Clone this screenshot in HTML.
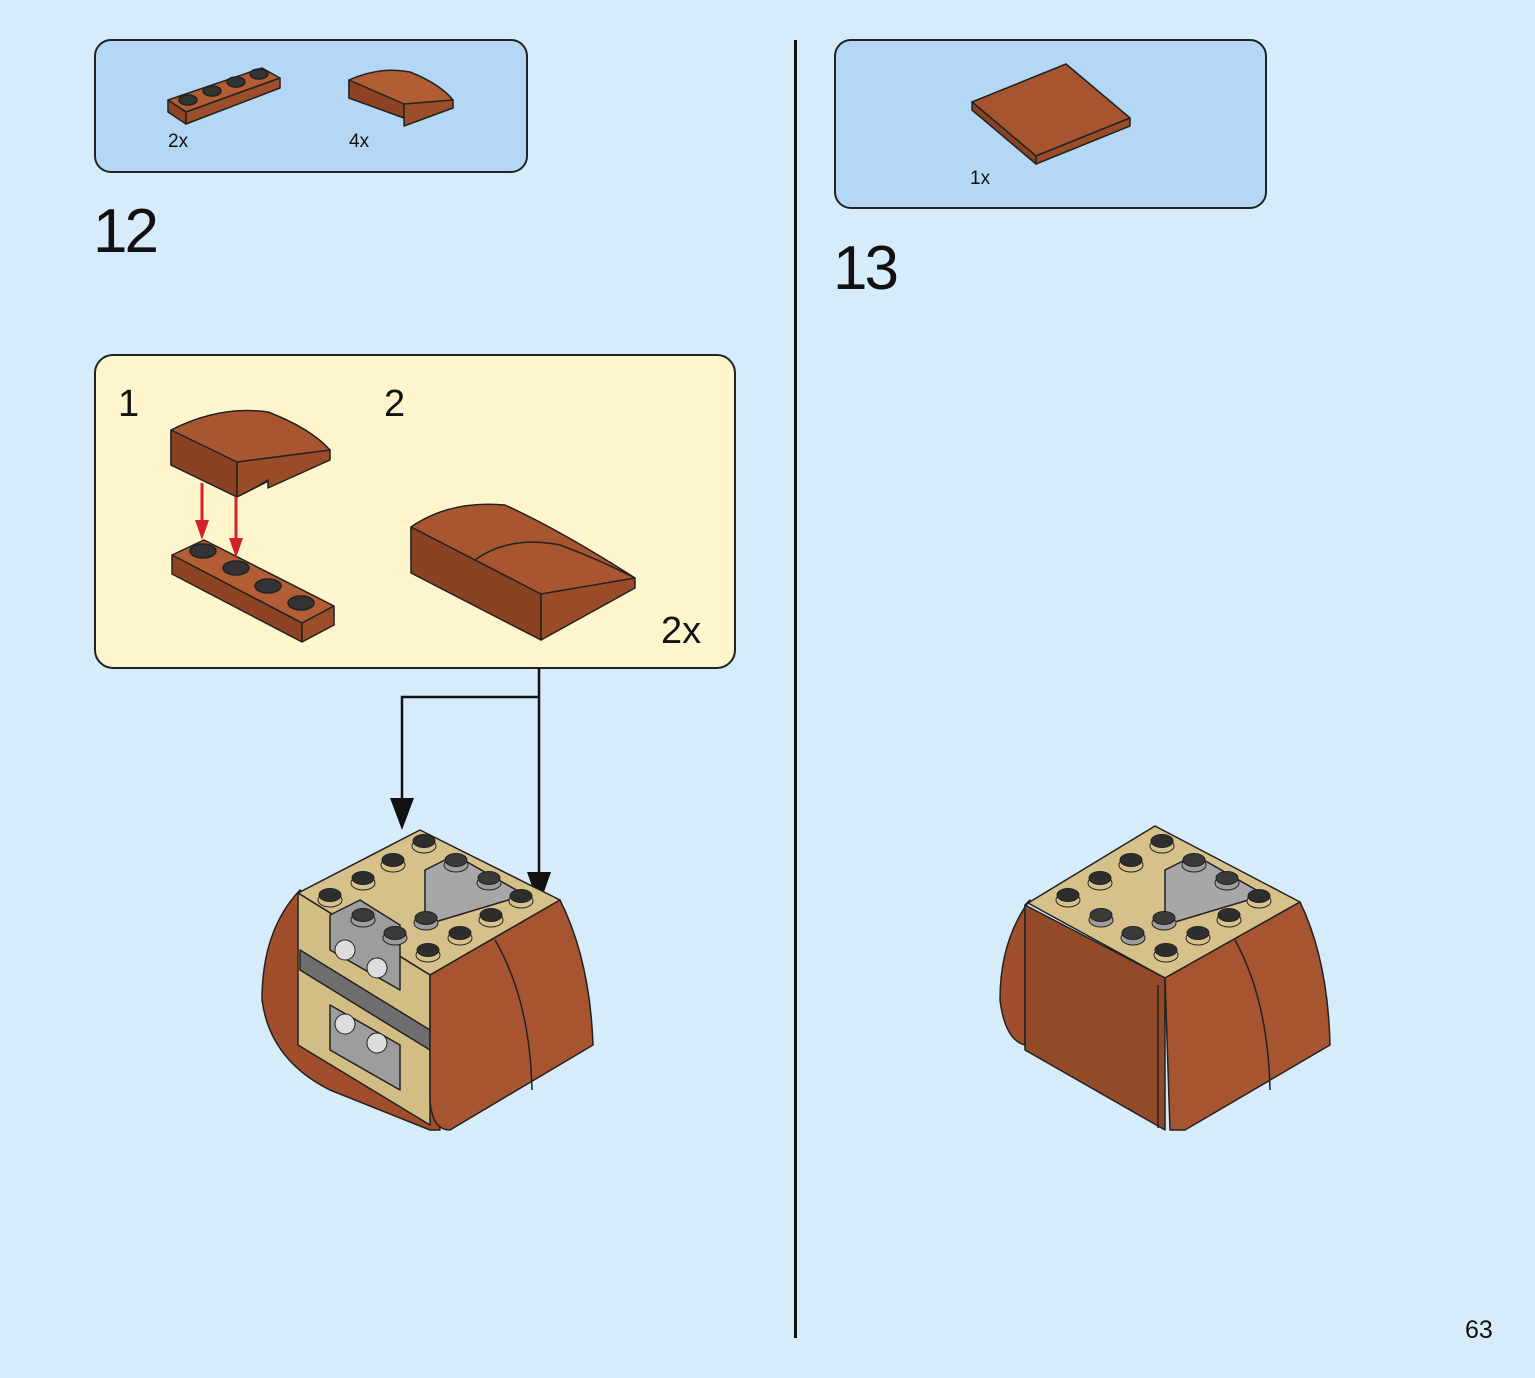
<!DOCTYPE html>
<html><head><meta charset="utf-8"><style>
html,body{margin:0;padding:0;background:#d7ecfb;}
body{width:1535px;height:1378px;position:relative;overflow:hidden;font-family:"Liberation Sans",sans-serif;}
svg{position:absolute;left:0;top:0;}
</style></head><body>
<svg width="1535" height="1378" viewBox="0 0 1535 1378" xmlns="http://www.w3.org/2000/svg" font-family="Liberation Sans, sans-serif">
<defs>
<g id="st"><ellipse cx="0" cy="3" rx="12" ry="7" fill="#d6c18a"/><ellipse cx="0" cy="-2" rx="11" ry="6.5" fill="#2e2e2e"/></g>
<g id="sg"><ellipse cx="0" cy="3" rx="12" ry="7" fill="#9d9d9d"/><ellipse cx="0" cy="-2" rx="11" ry="6.5" fill="#3a3a3a"/></g>
</defs>
<rect width="1535" height="1378" fill="#d7ecfb"/>
<rect x="95" y="40" width="432" height="132" rx="16" fill="#b3d7f4" stroke="#222" stroke-width="2"/>
<rect x="835" y="40" width="431" height="168" rx="16" fill="#b3d7f4" stroke="#222" stroke-width="2"/>
<rect x="95" y="355" width="640" height="313" rx="18" fill="#fff5cd" stroke="#222" stroke-width="2"/>
<line x1="795.5" y1="40" x2="795.5" y2="1338" stroke="#111" stroke-width="3"/>
<text x="93" y="252" font-size="62" letter-spacing="-3" fill="#111">12</text>
<text x="833" y="289" font-size="62" letter-spacing="-3" fill="#111">13</text>
<text x="1465" y="1338" font-size="25" fill="#111">63</text>
<text x="168" y="147" font-size="19" fill="#111">2x</text>
<text x="349" y="147" font-size="19" fill="#111">4x</text>
<text x="970" y="184" font-size="19" fill="#111">1x</text>
<text x="118" y="416" font-size="38" fill="#111">1</text>
<text x="384" y="416" font-size="38" fill="#111">2</text>
<text x="661" y="643" font-size="38" fill="#111">2x</text>

<g stroke="#222" stroke-width="1.5" stroke-linejoin="round">
<polygon points="168,100 262,68 280,78 186,112" fill="#b25d33"/>
<polygon points="168,100 186,112 186,124 168,112" fill="#8e4424"/>
<polygon points="186,112 280,78 280,88 186,124" fill="#9c4e2a"/>
<ellipse cx="188" cy="100" rx="9" ry="5" fill="#333"/><ellipse cx="212" cy="91" rx="9" ry="5" fill="#333"/><ellipse cx="236" cy="82" rx="9" ry="5" fill="#333"/><ellipse cx="259" cy="74" rx="9" ry="5" fill="#333"/>
<path d="M349,80 Q380,66 410,72 Q440,84 453,100 L404,118 L349,98 Z" fill="#b25d33"/>
<polygon points="349,80 349,98 404,118 404,104" fill="#8e4424"/>
<polygon points="404,104 453,100 453,108 404,126" fill="#9c4e2a"/>
<polygon points="972,102 1066,64 1130,118 1036,156" fill="#a65530"/>
<polygon points="972,102 1036,156 1036,164 972,110" fill="#8a4222"/>
<polygon points="1036,156 1130,118 1130,126 1036,164" fill="#9a4c29"/>

<path d="M171,430 Q220,405 268,412 Q310,428 330,450 L237,497 L171,465 Z" fill="#a85630"/>
<polygon points="171,430 237,462 237,497 171,465" fill="#8a4222"/>
<path d="M237,462 L330,450 L330,460 L268,488 L268,480 L258,486 L237,497 Z" fill="#9a4c29"/>
<polygon points="172,555 204,540 334,606 302,623" fill="#b25d33"/>
<polygon points="172,555 302,623 302,642 172,574" fill="#8e4424"/>
<polygon points="302,623 334,606 334,625 302,642" fill="#9c4e2a"/>
<ellipse cx="203" cy="551" rx="13" ry="7" fill="#333"/><ellipse cx="236" cy="568" rx="13" ry="7" fill="#333"/><ellipse cx="268" cy="586" rx="13" ry="7" fill="#333"/><ellipse cx="301" cy="603" rx="13" ry="7" fill="#333"/>
<path d="M411,527 Q450,500 505,505 Q560,530 635,578 L541,625 L411,560 Z" fill="#a85630"/>
<path d="M475,560 Q510,535 560,545 Q600,560 635,578" fill="none"/>
<polygon points="411,527 541,594 541,640 411,573" fill="#8a4222"/>
<polygon points="541,594 635,578 635,588 541,640" fill="#9a4c29"/>
</g>
<g stroke="#d2232a" stroke-width="3" fill="#d2232a">
<line x1="202" y1="483" x2="202" y2="528"/><polygon points="195,520 209,520 202,540" stroke="none"/>
<line x1="236" y1="497" x2="236" y2="546"/><polygon points="229,538 243,538 236,558" stroke="none"/>
</g>
<g stroke="#111" stroke-width="2.5" fill="none">
<polyline points="539,668 539,880"/>
<polyline points="539,697 402,697 402,804"/>
</g>
<polygon points="390,798 414,798 402,830" fill="#111"/>
<polygon points="527,872 551,872 539,906" fill="#111"/>

<g stroke="#222" stroke-width="1.5" stroke-linejoin="round">
<path d="M300,890 Q262,930 262,1000 Q270,1060 330,1090 L430,1130 L440,1130 L430,1000 Z" fill="#a04e2b"/>
<polygon points="298,893 420,830 560,900 430,975" fill="#d6c18a"/>
<polygon points="298,893 430,975 430,1125 298,1045" fill="#d2bd85"/>
<polygon points="300,950 430,1030 430,1050 300,970" fill="#6e6e6e"/>
<polygon points="330,915 360,900 400,925 400,990 330,950" fill="#9d9d9d"/>
<polygon points="330,1005 400,1045 400,1090 330,1050" fill="#9d9d9d"/>
<polygon points="425,870 455,855 525,895 425,925" fill="#a7a7a7"/>
<path d="M430,975 L560,900 Q590,960 593,1045 L450,1130 Q432,1130 430,1100 Z" fill="#a65530"/>
<path d="M495,940 Q530,1000 532,1090" fill="none"/>
</g>
<g stroke="#222">
<use href="#st" x="330" y="897"/><use href="#st" x="363" y="880"/><use href="#st" x="393" y="862"/><use href="#st" x="424" y="843"/>
<use href="#sg" x="456" y="862"/><use href="#sg" x="489" y="880"/><use href="#st" x="521" y="898"/>
<use href="#sg" x="363" y="917"/><use href="#sg" x="395" y="935"/><use href="#sg" x="426" y="920"/>
<use href="#st" x="491" y="917"/><use href="#st" x="460" y="935"/><use href="#st" x="428" y="952"/>
<circle cx="345" cy="950" r="10" fill="#ddd"/><circle cx="377" cy="968" r="10" fill="#ddd"/><circle cx="345" cy="1024" r="10" fill="#ddd"/><circle cx="377" cy="1043" r="10" fill="#ddd"/>
</g>

<g stroke="#222" stroke-width="1.5" stroke-linejoin="round">
<path d="M1030,900 Q1000,940 1000,1000 Q1005,1040 1025,1045 L1025,905 Z" fill="#a04e2b"/>
<polygon points="1028,903 1155,826 1300,902 1165,978" fill="#d6c18a"/>
<polygon points="1165,870 1195,855 1265,895 1165,925" fill="#a7a7a7"/>
<polygon points="1025,905 1165,978 1165,1130 1025,1050" fill="#934a28"/>
<path d="M1165,978 L1300,902 Q1328,960 1330,1045 L1185,1130 L1170,1130 Z" fill="#a65530"/>
<path d="M1235,940 Q1268,1000 1270,1090" fill="none"/>
<line x1="1158" y1="985" x2="1158" y2="1128"/>
</g>
<g stroke="#222">
<use href="#st" x="1068" y="897"/><use href="#st" x="1100" y="880"/><use href="#st" x="1131" y="862"/><use href="#st" x="1162" y="843"/>
<use href="#sg" x="1194" y="862"/><use href="#sg" x="1227" y="880"/><use href="#st" x="1259" y="898"/>
<use href="#sg" x="1101" y="917"/><use href="#sg" x="1133" y="935"/><use href="#sg" x="1164" y="920"/>
<use href="#st" x="1229" y="917"/><use href="#st" x="1198" y="935"/><use href="#st" x="1166" y="952"/>
</g>
</svg>
</body></html>
